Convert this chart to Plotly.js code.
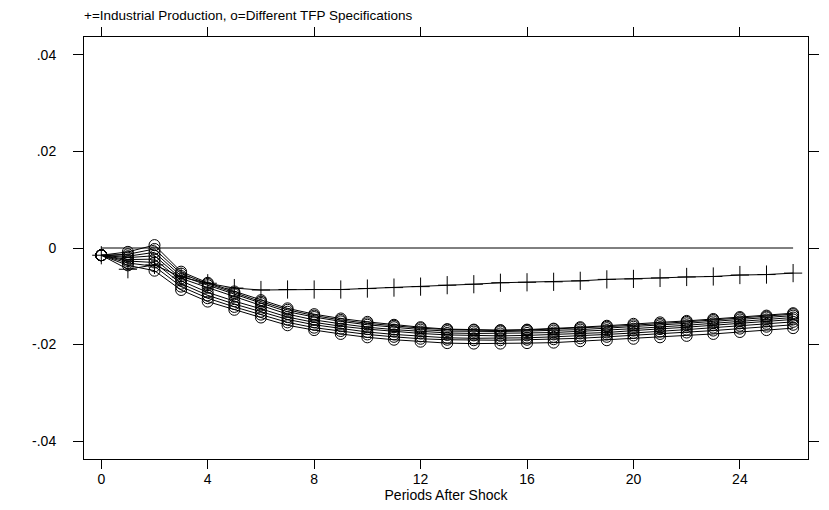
<!DOCTYPE html>
<html>
<head>
<meta charset="utf-8">
<script src="https://cdn.plot.ly/plotly-3.0.1.min.js"></script>
<style>html,body{margin:0;padding:0;background:#fff;}#chart{width:829px;height:510px;}</style>
</head>
<body>
<div id="chart"></div>
<script>
const periods = [0,1,2,3,4,5,6,7,8,9,10,11,12,13,14,15,16,17,18,19,20,21,22,23,24,25,26];
const zeroLine = [0,0,0,0,0,0,0,0,0,0,0,0,0,0,0,0,0,0,0,0,0,0,0,0,0,0,0];
const industrialProduction = [-0.0015,-0.0044,-0.0035,-0.0060,-0.0073,-0.0083,-0.0087,-0.0086,-0.0086,-0.0086,-0.0084,-0.0082,-0.0080,-0.0077,-0.0075,-0.0072,-0.0071,-0.0070,-0.0068,-0.0065,-0.0064,-0.0062,-0.0060,-0.0059,-0.0056,-0.0055,-0.0052];
const tfpA = [-0.0015,-0.0008,0.0006,-0.0049,-0.0072,-0.0090,-0.0108,-0.0125,-0.0137,-0.0146,-0.0153,-0.0159,-0.0164,-0.0168,-0.0169,-0.0170,-0.0169,-0.0167,-0.0164,-0.0161,-0.0157,-0.0154,-0.0151,-0.0147,-0.0143,-0.0140,-0.0135];
const tfpB = [-0.0015,-0.0013,-0.0002,-0.0053,-0.0074,-0.0093,-0.0111,-0.0128,-0.0140,-0.0149,-0.0156,-0.0161,-0.0166,-0.0169,-0.0170,-0.0171,-0.0170,-0.0168,-0.0166,-0.0163,-0.0160,-0.0157,-0.0153,-0.0149,-0.0145,-0.0142,-0.0137];
const tfpC = [-0.0015,-0.0017,-0.0009,-0.0058,-0.0077,-0.0096,-0.0114,-0.0132,-0.0143,-0.0152,-0.0159,-0.0164,-0.0169,-0.0172,-0.0173,-0.0173,-0.0172,-0.0171,-0.0169,-0.0166,-0.0163,-0.0160,-0.0156,-0.0152,-0.0148,-0.0144,-0.0140];
const tfpD = [-0.0015,-0.0020,-0.0016,-0.0063,-0.0082,-0.0101,-0.0119,-0.0137,-0.0149,-0.0157,-0.0164,-0.0169,-0.0173,-0.0176,-0.0177,-0.0177,-0.0176,-0.0175,-0.0173,-0.0170,-0.0167,-0.0164,-0.0160,-0.0156,-0.0152,-0.0148,-0.0144];
const tfpE = [-0.0015,-0.0024,-0.0023,-0.0068,-0.0092,-0.0110,-0.0126,-0.0143,-0.0154,-0.0162,-0.0168,-0.0173,-0.0177,-0.0180,-0.0181,-0.0182,-0.0181,-0.0179,-0.0177,-0.0175,-0.0171,-0.0168,-0.0164,-0.0160,-0.0156,-0.0152,-0.0148];
const tfpF = [-0.0015,-0.0027,-0.0030,-0.0074,-0.0098,-0.0116,-0.0132,-0.0148,-0.0159,-0.0167,-0.0174,-0.0179,-0.0183,-0.0186,-0.0187,-0.0187,-0.0186,-0.0184,-0.0182,-0.0179,-0.0176,-0.0173,-0.0169,-0.0165,-0.0161,-0.0157,-0.0153];
const tfpG = [-0.0015,-0.0031,-0.0038,-0.0080,-0.0104,-0.0122,-0.0138,-0.0154,-0.0165,-0.0172,-0.0179,-0.0184,-0.0188,-0.0190,-0.0191,-0.0191,-0.0190,-0.0189,-0.0187,-0.0184,-0.0181,-0.0178,-0.0175,-0.0171,-0.0167,-0.0163,-0.0159];
const tfpH = [-0.0015,-0.0036,-0.0047,-0.0087,-0.0111,-0.0128,-0.0144,-0.0160,-0.0170,-0.0178,-0.0185,-0.0190,-0.0194,-0.0197,-0.0198,-0.0198,-0.0197,-0.0196,-0.0193,-0.0191,-0.0188,-0.0185,-0.0182,-0.0178,-0.0174,-0.0170,-0.0166];
const tfpSeries = [tfpA,tfpB,tfpC,tfpD,tfpE,tfpF,tfpG,tfpH];
const xTicks = [0,4,8,12,16,20,24];
const yTickVals = [0.04,0.02,0,-0.02,-0.04];
const yTickText = ['.04','.02','0','-.02','-.04'];

const FONT = 'Liberation Sans, Arial, sans-serif';
const traces = [];
traces.push({x: periods, y: zeroLine, mode: 'lines', line: {color: '#000', width: 1}, hoverinfo: 'skip'});
tfpSeries.forEach(s => {
  traces.push({x: periods, y: s, mode: 'lines+markers', line: {color: '#000', width: 1},
    marker: {symbol: 'circle-open', size: 11, color: '#000', line: {width: 1, color: '#000'}}});
});
traces.push({x: periods, y: industrialProduction, mode: 'lines+markers', line: {color: '#000', width: 1},
  marker: {symbol: 'cross-thin-open', size: 13, color: '#000', line: {width: 1, color: '#000'}}});

const layout = {
  width: 829, height: 510,
  margin: {l: 84, r: 21, t: 37, b: 51},
  paper_bgcolor: '#fff', plot_bgcolor: '#fff',
  showlegend: false,
  font: {family: FONT, size: 13, color: '#000'},
  title: {text: '+=Industrial Production, o=Different TFP Specifications', x: 0, xref: 'paper', xanchor: 'left',
    y: 1 - 15/510, yref: 'container', yanchor: 'middle', font: {family: FONT, size: 13.5, color: '#000'}},
  xaxis: {range: [-0.65, 26.56], tickvals: xTicks, ticktext: xTicks.map(String), ticks: 'outside', ticklen: 9,
    tickcolor: '#000', showline: true, linecolor: '#000', linewidth: 1, mirror: 'ticks', showgrid: false, zeroline: false,
    tickfont: {family: FONT, size: 14}, ticklabelstandoff: -2,
    title: {text: 'Periods After Shock', font: {family: FONT, size: 14}, standoff: 2}},
  yaxis: {range: [-0.0437, 0.0437], tickvals: yTickVals, ticktext: yTickText, ticks: 'outside', ticklen: 10,
    tickcolor: '#000', showline: true, linecolor: '#000', linewidth: 1, mirror: 'ticks', showgrid: false, zeroline: false,
    tickfont: {family: FONT, size: 14}, ticklabelstandoff: 14}
};
Plotly.newPlot('chart', traces, layout, {staticPlot: true, displayModeBar: false});
</script>
</body>
</html>
